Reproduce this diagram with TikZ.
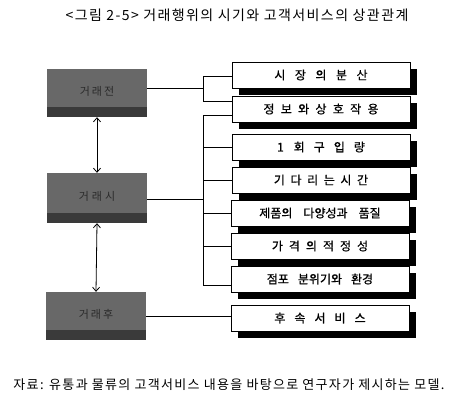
\documentclass[tikz,border=0pt]{standalone}
\usepackage{fontspec}
\setmainfont{Noto Sans CJK KR}
\newfontfamily\boxfont[FakeBold=0.8]{Noto Sans CJK KR}
\newfontfamily\titlefont[LetterSpace=10]{Noto Sans CJK KR}
\usetikzlibrary{arrows.meta,shadows}
\definecolor{boxgray}{HTML}{686868}
\definecolor{boxdark}{HTML}{3A3A3A}
\definecolor{boxtext}{HTML}{2A2A2A}
\begin{document}
\begin{tikzpicture}[x=1pt,y=-1pt,
  lbox/.style={draw=none,fill=boxgray,minimum width=100pt,inner sep=0pt,
    text=boxtext,font=\fontsize{11}{13}\selectfont,
    path picture={\fill[boxdark] ([yshift=10pt]path picture bounding box.south west) rectangle (path picture bounding box.south east);}},
  rbox/.style={draw=black,line width=0.9pt,fill=white,minimum width=178pt,minimum height=26pt,inner sep=0pt,
    font=\boxfont\fontsize{12}{14}\selectfont,
    drop shadow={shadow xshift=7pt,shadow yshift=-7pt,fill=black,opacity=1}},
  conn/.style={line width=0.8pt,black},
  arr/.style={line width=0.8pt,black,{Straight Barb[length=4pt,width=7pt]}-{Straight Barb[length=4pt,width=7pt]}}
]
\useasboundingbox (0,0) rectangle (452,404);
\fill[white] (0,0) rectangle (452,404);

% title and footer
\node[font=\titlefont\fontsize{14}{16}\selectfont] (title) at (237,15) {<그림 2-5> 거래행위의 시기와 고객서비스의 상관관계};
\node[font=\titlefont\fontsize{13}{15}\selectfont] (foot) at (229,385) {자료: 유통과 물류의 고객서비스 내용을 바탕으로 연구자가 제시하는 모델.};

% left boxes
\node[lbox,minimum height=48pt] (l1) at (97,93) {\raisebox{4pt}{거\kern2pt 래\kern2pt 전}};
\node[lbox,minimum height=50pt] (l2) at (97,198) {\raisebox{4pt}{거\kern3pt 래\kern3pt 시}};
\node[lbox,minimum height=48pt] (l3) at (96,316) {\raisebox{4pt}{거\kern2pt 래\kern2pt 후}};

\draw[arr] (l1.south) -- (l2.north);
\draw[arr] (l2.south) -- (l3.north);

% right boxes
\node[rbox] (A) at (321,75) {시\kern9.5pt 장\kern9.5pt 의\kern9.5pt 분\kern9.5pt 산};
\node[rbox] (B) at (321,109) {정\kern6.3pt 보\kern6.3pt 와\kern6.3pt 상\kern6.3pt 호\kern6.3pt 작\kern6.3pt 용};
\node[rbox] (C) at (321,147) {1\kern10pt 회\kern9pt 구\kern9pt 입\kern9pt 량};
\node[rbox] (D) at (321,180) {기\kern5.6pt 다\kern5.6pt 리\kern5.6pt 는\kern5.6pt 시\kern5.6pt 간};
\node[rbox] (E) at (320,213) {제품의\kern11pt 다양성과\kern11pt 품질};
\node[rbox] (F) at (320,246) {가\kern6pt 격\kern6pt 의\kern6pt 적\kern6pt 정\kern6pt 성};
\node[rbox] (G) at (320,279) {점포\kern9pt 분위기와\kern9pt 환경};
\node[rbox] (H) at (320,318) {후\kern9pt 속\kern9pt 서\kern9pt 비\kern9pt 스};

% bracket 1
\coordinate (j1) at (203,88);
\coordinate (t1) at (203,76);
\coordinate (t2) at (203,101);
\draw[conn] (j1 -| l1.east) -- (j1);
\draw[conn] (t1 -| A.west) -- (t1) -- (t2) -- (t2 -| B.west);

% bracket 2
\coordinate (j2) at (203,199);
\coordinate (u1) at (203,115);
\coordinate (u2) at (203,147);
\coordinate (u3) at (203,180);
\coordinate (u4) at (203,213);
\coordinate (u5) at (203,246);
\coordinate (u6) at (203,285);
\draw[conn] (j2 -| l2.east) -- (j2);
\draw[conn] (u1 -| B.west) -- (u1) -- (u6) -- (u6 -| G.west);
\draw[conn] (u2) -- (u2 -| C.west);
\draw[conn] (u3) -- (u3 -| D.west);
\draw[conn] (u4) -- (u4 -| E.west);
\draw[conn] (u5) -- (u5 -| F.west);

% after
\draw[conn] (l3.east) -- (l3.east -| H.west);
\end{tikzpicture}
\end{document}
